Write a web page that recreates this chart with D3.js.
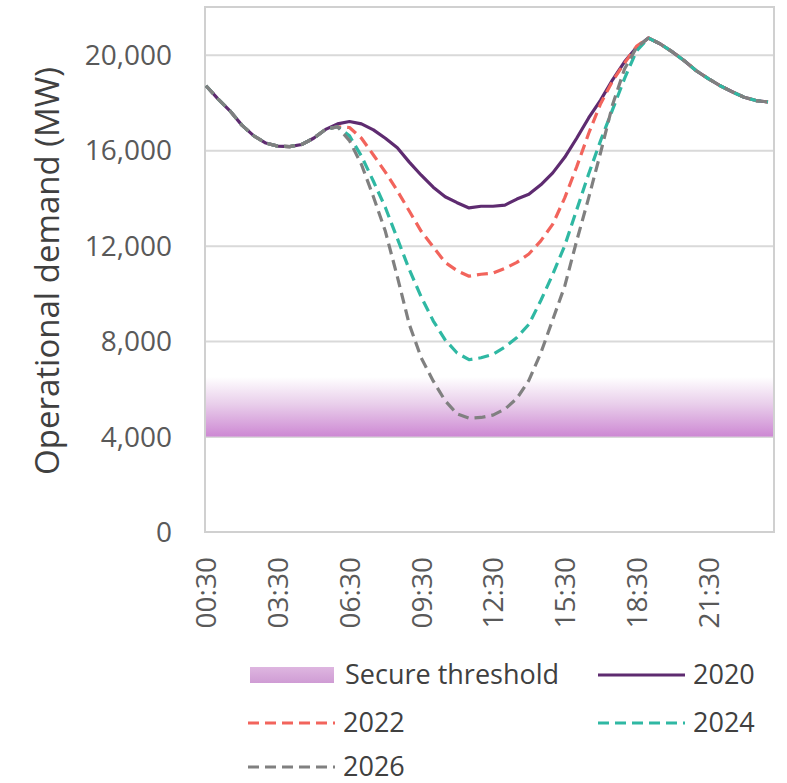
<!DOCTYPE html>
<html>
<head>
<meta charset="utf-8">
<script src="https://cdn.jsdelivr.net/npm/d3@7"></script>
<style>
  html, body { margin: 0; padding: 0; background: #ffffff; }
  svg { display: block; }
  text { font-family: "Open Sans", "Noto Sans", sans-serif; }
</style>
</head>
<body>
<svg id="chart" width="787" height="783"></svg>
<script>
// ---- data ----
const times = ["00:30","01:00","01:30","02:00","02:30","03:00","03:30","04:00","04:30","05:00",
  "05:30","06:00","06:30","07:00","07:30","08:00","08:30","09:00","09:30","10:00",
  "10:30","11:00","11:30","12:00","12:30","13:00","13:30","14:00","14:30","15:00",
  "15:30","16:00","16:30","17:00","17:30","18:00","18:30","19:00","19:30","20:00",
  "20:30","21:00","21:30","22:00","22:30","23:00","23:30","24:00"];
const xTickLabels = ["00:30","03:30","06:30","09:30","12:30","15:30","18:30","21:30"];
const yTickValues = [0, 4000, 8000, 12000, 16000, 20000];
const secureThreshold = [4000, 6500];

const demand2020 = [18700,18150,17650,17050,16600,16300,16170,16150,16240,16500,16870,17100,
  17200,17100,16850,16500,16100,15500,14950,14450,14050,13800,13580,13650,13650,13700,
  13950,14150,14550,15050,15700,16500,17350,18100,18950,19700,20300,
  20700,20450,20120,19750,19330,19000,18700,18450,18220,18080,18020];
const demand2022 = [18700,18150,17650,17050,16600,16300,16170,16150,16240,16500,16870,16980,
  16950,16500,15800,15080,14300,13450,12600,11950,11300,10950,10720,10800,10850,11050,
  11300,11650,12200,12900,14000,15300,16700,17950,18900,19650,20350,
  20700,20450,20120,19750,19330,19000,18700,18450,18220,18080,18020];
const demand2024 = [18700,18150,17650,17050,16600,16300,16170,16150,16240,16500,16870,16980,
  16600,15750,14700,13600,12300,11000,9850,8850,8050,7500,7220,7300,7450,7750,
  8150,8700,9700,10800,12000,13500,15000,16400,17700,19000,20150,
  20700,20450,20120,19750,19330,19000,18700,18450,18220,18080,18020];
const demand2026 = [18700,18150,17650,17050,16600,16300,16170,16150,16240,16500,16870,16980,
  16400,15400,14050,12600,10700,8700,7300,6330,5500,4950,4770,4800,4900,5150,
  5600,6350,7500,8900,10300,12200,14000,15900,17900,19400,20300,
  20700,20450,20120,19750,19330,19000,18700,18450,18220,18080,18020];

const seriesNames = ["2020","2022","2024","2026"];
const seriesValues = [demand2020, demand2022, demand2024, demand2026];
const seriesColors = ["#5e2b70", "#f2645c", "#2fb8a3", "#808080"];
const seriesDash = [null, "11,6", "11,6", "11,6"];

// ---- layout ----
const svg = d3.select("#chart");
const plot = { left: 205, right: 774, top: 7, bottom: 532 };

const x = d3.scalePoint().domain(times).range([206, 768]);
const y = d3.scaleLinear().domain([0, 22000]).range([plot.bottom, plot.top]);

// gradients
const defs = svg.append("defs");
const grad = defs.append("linearGradient").attr("id", "bandGrad")
  .attr("x1", 0).attr("y1", 0).attr("x2", 0).attr("y2", 1);
grad.append("stop").attr("offset", "0%").attr("stop-color", "#ffffff");
grad.append("stop").attr("offset", "45%").attr("stop-color", "#e9cfeb");
grad.append("stop").attr("offset", "100%").attr("stop-color", "#cd88d3");
const lgrad = defs.append("linearGradient").attr("id", "swatchGrad")
  .attr("x1", 0).attr("y1", 0).attr("x2", 0).attr("y2", 1);
lgrad.append("stop").attr("offset", "0%").attr("stop-color", "#deb6e0");
lgrad.append("stop").attr("offset", "100%").attr("stop-color", "#cf9cd4");

// gridlines
const yAxisGrid = d3.axisLeft(y).tickValues(yTickValues.filter(v => v > 0))
  .tickSize(-(plot.right - plot.left)).tickFormat("");
svg.append("g").attr("transform", `translate(${plot.left},0)`).call(yAxisGrid)
  .call(g => g.select(".domain").remove())
  .call(g => g.selectAll("line").attr("stroke", "#d9d9d9").attr("stroke-width", 2));

// secure threshold band
svg.append("rect")
  .attr("x", plot.left + 1).attr("width", plot.right - plot.left - 2)
  .attr("y", y(secureThreshold[1]))
  .attr("height", y(secureThreshold[0]) - y(secureThreshold[1]))
  .attr("fill", "url(#bandGrad)");

// border
svg.append("rect")
  .attr("x", plot.left).attr("y", plot.top)
  .attr("width", plot.right - plot.left).attr("height", plot.bottom - plot.top)
  .attr("fill", "none").attr("stroke", "#d0d0d0").attr("stroke-width", 2);

// y axis labels
const yAxis = d3.axisLeft(y).tickValues(yTickValues).tickSize(0).tickPadding(33)
  .tickFormat(d3.format(","));
svg.append("g").attr("transform", `translate(${plot.left},0)`).call(yAxis)
  .call(g => g.select(".domain").remove())
  .call(g => g.selectAll("text").attr("fill", "#595959")
    .style("font-size", "28px").attr("dy", "0.35em"));

// x axis labels
const xAxis = d3.axisBottom(x).tickValues(xTickLabels).tickSize(0).tickPadding(0);
svg.append("g").attr("transform", `translate(0,${plot.bottom})`).call(xAxis)
  .call(g => g.select(".domain").remove())
  .call(g => g.selectAll("text")
    .attr("fill", "#595959").style("font-size", "28px")
    .attr("text-anchor", "end")
    .attr("transform", "rotate(-90)")
    .attr("x", -25).attr("y", 0).attr("dy", "0.35em"));

// y title
svg.append("text")
  .attr("transform", `translate(47,271) rotate(-90)`)
  .attr("text-anchor", "middle").attr("dy", "0.35em")
  .attr("fill", "#404040").style("font-size", "33px")
  .text("Operational demand (MW)");

// lines
const line = d3.line().x((d, i) => x(times[i])).y(d => y(d));
seriesValues.forEach((vals, k) => {
  svg.append("path")
    .datum(vals)
    .attr("d", line)
    .attr("fill", "none")
    .attr("stroke", seriesColors[k])
    .attr("stroke-width", 3.2)
    .attr("stroke-dasharray", seriesDash[k])
    .attr("stroke-linejoin", "round");
});

// legend
const legend = svg.append("g");
const legendItems = [
  { label: "Secure threshold", type: "band", x: 250, y: 675 },
  { label: seriesNames[0], type: 0, x: 598, y: 675 },
  { label: seriesNames[1], type: 1, x: 248, y: 723 },
  { label: seriesNames[2], type: 2, x: 598, y: 723 },
  { label: seriesNames[3], type: 3, x: 248, y: 767 }
];
legendItems.forEach(it => {
  const g = legend.append("g");
  if (it.type === "band") {
    g.append("rect").attr("x", it.x).attr("y", it.y - 8).attr("width", 84).attr("height", 16)
      .attr("fill", "url(#swatchGrad)");
  } else {
    g.append("line").attr("x1", it.x).attr("x2", it.x + 87).attr("y1", it.y).attr("y2", it.y)
      .attr("stroke", seriesColors[it.type]).attr("stroke-width", 3)
      .attr("stroke-dasharray", seriesDash[it.type]);
  }
  g.append("text").attr("x", it.x + 95).attr("y", it.y).attr("dy", "0.35em")
    .attr("fill", "#404040").style("font-size", "27px").text(it.label);
});
</script>
</body>
</html>
